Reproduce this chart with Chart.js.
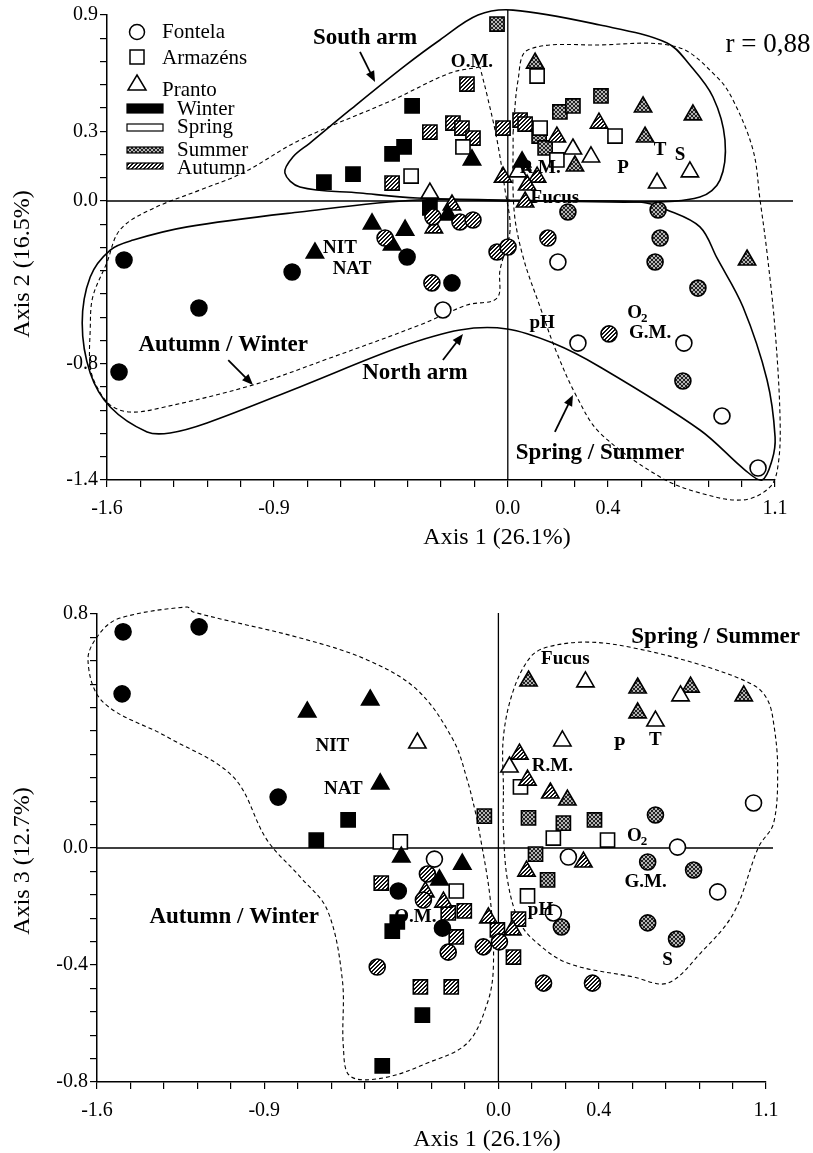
<!DOCTYPE html>
<html>
<head>
<meta charset="utf-8">
<script src="https://cdn.jsdelivr.net/npm/chart.js@4.4.1/dist/chart.umd.min.js"></script>
<style>
  html, body { margin: 0; padding: 0; background: #fff; }
  canvas { position: absolute; left: 0; }
  #top { top: 0; }
  #bot { top: 575px; }
</style>
</head>
<body>
<canvas id="top" width="813" height="570"></canvas>
<canvas id="bot" width="813" height="578"></canvas>
<script>
// ---- tick labels ----
const xTickAt = [0, 5, 12, 15, 20];
const xTickText = ['-1.6', '-0.9', '0.0', '0.4', '1.1'];
const y2TickAt = [0, 5, 12, 15, 20];
const y2TickText = ['-1.4', '-0.8', '0.0', '0.3', '0.9'];
const y3TickAt = [0, 5, 10, 20];
const y3TickText = ['-0.8', '-0.4', '0.0', '0.8'];

// ---- Axis 1 x Axis 2 ----
const f12W  = [[-1.532,-0.296],[-0.861,-0.356],[-1.233,-0.537],[-1.552,-0.858],[-0.402,-0.281],[-0.223,-0.411]];
const f12Sp = [[-0.259,-0.547],[0.200,-0.306],[0.280,-0.713],[0.703,-0.713],[0.855,-1.079],[0.999,-1.340]];
const f12Su = [[0.240,-0.055],[0.600,-0.045],[0.608,-0.186],[0.588,-0.306],[0.759,-0.437],[0.699,-0.903]];
const f12Au = [[-0.490,-0.186],[-0.299,-0.080],[-0.191,-0.105],[-0.139,-0.095],[-0.043,-0.256],[0.001,-0.231],[-0.303,-0.411],[0.160,-0.186],[0.404,-0.667]];
const a12W  = [[-0.734,0.095],[-0.618,0.135],[-0.462,0.236],[-0.414,0.271],[-0.382,0.477],[-0.311,-0.035]];
const a12Sp = [[-0.386,0.125],[-0.179,0.271],[0.117,0.627],[0.129,0.366],[0.196,0.206],[0.428,0.326]];
const a12Su = [[-0.043,0.888],[0.208,0.447],[0.260,0.477],[0.372,0.527],[0.125,0.326],[0.149,0.266]];
const a12Au = [[-0.462,0.090],[-0.311,0.346],[-0.219,0.391],[-0.183,0.366],[-0.139,0.316],[-0.163,0.587],[-0.019,0.366],[0.049,0.406],[0.069,0.386]];
const p12W  = [[-0.770,-0.261],[-0.542,-0.115],[-0.410,-0.146],[-0.462,-0.221],[-0.239,-0.070],[-0.143,0.206],[0.057,0.196]];
const p12Sp = [[-0.311,0.040],[0.260,0.261],[0.332,0.221],[0.596,0.090],[0.727,0.146],[0.041,0.146]];
const p12Su = [[0.109,0.692],[0.540,0.472],[0.739,0.432],[0.548,0.321],[0.268,0.176],[0.955,-0.296]];
const p12Au = [[-0.223,-0.020],[-0.295,-0.135],[-0.019,0.120],[0.057,0.181],[0.117,0.120],[0.077,0.080],[0.069,-0.005],[0.364,0.391],[0.196,0.321]];

// envelopes (axis units)
const southArm12 = [[0.009,0.005],[0.528,-0.005],[0.767,0.020],[0.847,0.105],[0.867,0.306],[0.819,0.522],[0.727,0.682],[0.636,0.793],[0.368,0.883],[0.021,0.958],[-0.119,0.933],[-0.271,0.808],[-0.411,0.678],[-0.630,0.457],[-0.790,0.291],[-0.858,0.221],[-0.890,0.141],[-0.830,0.070],[-0.590,0.040],[-0.362,0.015],[0.009,0.005]];
const northArm12 = [[0.009,0.000],[-0.362,0.005],[-0.830,-0.055],[-1.280,-0.130],[-1.495,-0.196],[-1.587,-0.246],[-1.667,-0.381],[-1.699,-0.612],[-1.667,-0.863],[-1.587,-1.034],[-1.440,-1.159],[-1.348,-1.164],[-1.201,-1.114],[-0.830,-0.933],[-0.430,-0.733],[-0.191,-0.647],[-0.003,-0.642],[0.180,-0.713],[0.368,-0.833],[0.767,-1.149],[0.947,-1.350],[1.015,-1.400],[1.055,-1.300],[1.067,-1.184],[1.035,-0.898],[0.939,-0.532],[0.835,-0.286],[0.767,-0.130],[0.636,-0.045],[0.528,-0.005],[0.009,0.000]];
const autWin12 = [[-0.111,0.672],[-0.231,0.642],[-0.459,0.507],[-0.830,0.306],[-1.058,0.141],[-1.229,0.055],[-1.429,-0.045],[-1.549,-0.146],[-1.601,-0.311],[-1.657,-0.482],[-1.667,-0.647],[-1.667,-0.833],[-1.640,-0.933],[-1.587,-1.024],[-1.508,-1.059],[-1.389,-1.039],[-1.017,-0.923],[-0.710,-0.788],[-0.351,-0.622],[-0.163,-0.522],[-0.043,-0.487],[-0.031,-0.346],[0.009,-0.146],[-0.011,0.055],[-0.043,0.306],[-0.083,0.532],[-0.111,0.672]];
const sprSum12 = [[0.021,0.341],[0.041,0.607],[0.080,0.758],[0.368,0.783],[0.676,0.773],[0.835,0.622],[0.899,0.507],[0.979,0.256],[1.007,0.005],[1.035,-0.261],[1.067,-0.647],[1.087,-1.099],[1.079,-1.325],[1.047,-1.435],[0.939,-1.500],[0.767,-1.465],[0.608,-1.385],[0.368,-1.164],[0.276,-0.984],[0.196,-0.763],[0.129,-0.532],[0.061,-0.281],[0.025,-0.045],[0.021,0.341]];

// ---- Axis 1 x Axis 3 ----
const f13W  = [[-1.496,0.739],[-1.193,0.756],[-1.500,0.527],[-0.878,0.174],[-0.399,-0.147],[-0.223,-0.274]];
const f13Sp = [[-0.255,-0.038],[0.279,-0.031],[0.219,-0.222],[0.714,0.003],[0.874,-0.150],[1.017,0.154]];
const f13Su = [[0.626,0.113],[0.595,-0.048],[0.778,-0.075],[0.595,-0.256],[0.710,-0.311],[0.251,-0.270]];
const f13Au = [[-0.283,-0.089],[-0.299,-0.178],[-0.200,-0.356],[-0.483,-0.407],[-0.060,-0.338],[0.004,-0.321],[0.180,-0.462],[0.375,-0.462]];
const a13W  = [[-0.599,0.096],[-0.726,0.027],[-0.403,-0.253],[-0.423,-0.284],[-0.463,-0.745],[-0.303,-0.571]];
const a13Sp = [[-0.391,0.021],[-0.168,-0.147],[0.088,0.209],[0.219,0.034],[0.435,0.027],[0.116,-0.164]];
const a13Su = [[-0.056,0.109],[0.120,0.103],[0.259,0.085],[0.383,0.096],[0.148,-0.021],[0.196,-0.109]];
const a13Au = [[-0.467,-0.120],[-0.200,-0.222],[-0.136,-0.215],[-0.168,-0.304],[-0.311,-0.475],[-0.188,-0.475],[-0.004,-0.280],[0.080,-0.243],[0.060,-0.373]];
const p13W  = [[-0.762,0.465],[-0.511,0.506],[-0.471,0.219],[-0.387,-0.031],[-0.144,-0.055],[-0.235,-0.109]];
const p13Sp = [[-0.323,0.359],[0.347,0.568],[0.726,0.520],[0.626,0.434],[0.255,0.366],[0.044,0.277]];
const p13Su = [[0.120,0.571],[0.555,0.547],[0.766,0.550],[0.978,0.520],[0.555,0.462],[0.275,0.164]];
const p13Au = [[-0.291,-0.150],[-0.219,-0.185],[-0.040,-0.239],[0.056,-0.280],[0.084,0.321],[0.116,0.232],[0.207,0.188],[0.339,-0.048],[0.112,-0.079]];

const autWin13 = [[-0.084,0.096],[-0.032,-0.178],[-0.020,-0.407],[-0.044,-0.530],[-0.124,-0.667],[-0.283,-0.735],[-0.459,-0.786],[-0.591,-0.780],[-0.618,-0.680],[-0.622,-0.451],[-0.682,-0.212],[-0.790,-0.099],[-0.922,0.027],[-1.057,0.243],[-1.321,0.380],[-1.576,0.499],[-1.636,0.643],[-1.588,0.735],[-1.508,0.786],[-1.241,0.824],[-1.217,0.807],[-0.790,0.718],[-0.523,0.643],[-0.323,0.540],[-0.180,0.369],[-0.124,0.232],[-0.084,0.096]];
const sprSum13 = [[0.020,0.200],[0.020,0.380],[0.060,0.540],[0.128,0.653],[0.196,0.687],[0.355,0.704],[0.539,0.684],[0.806,0.626],[1.017,0.557],[1.073,0.506],[1.097,0.427],[1.113,0.277],[1.097,0.085],[1.037,0.003],[0.938,-0.222],[0.806,-0.359],[0.674,-0.462],[0.539,-0.441],[0.275,-0.393],[0.140,-0.314],[0.080,-0.246],[0.036,-0.109],[0.020,0.062],[0.020,0.200]];

// ---- annotations ----
const notes12 = [
  {t:'South arm', x:-0.570, y:0.818, big:true},
  {t:'O.M.', x:-0.143, y:0.697}, {t:'R.M.', x:0.129, y:0.166}, {t:'Fucus', x:0.188, y:0.015},
  {t:'P', x:0.460, y:0.166}, {t:'T', x:0.608, y:0.256}, {t:'S', x:0.688, y:0.231},
  {t:'NIT', x:-0.670, y:-0.236}, {t:'NAT', x:-0.622, y:-0.341}, {t:'pH', x:0.137, y:-0.612},
  {t:'O2', x:0.519, y:-0.562, sub:true}, {t:'G.M.', x:0.568, y:-0.662},
  {t:'Autumn / Winter', x:-1.136, y:-0.723, big:true},
  {t:'North arm', x:-0.371, y:-0.863, big:true},
  {t:'Spring / Summer', x:0.368, y:-1.265, big:true}
];
const arrows12 = [[-0.590,0.748,-0.530,0.597],[-1.116,-0.798,-1.017,-0.923],[-0.259,-0.798,-0.179,-0.667],[0.188,-1.159,0.260,-0.973]];
const notes13 = [
  {t:'Fucus', x:0.267, y:0.646}, {t:'R.M.', x:0.215, y:0.280}, {t:'P', x:0.483, y:0.352},
  {t:'T', x:0.626, y:0.369}, {t:'NIT', x:-0.662, y:0.349}, {t:'NAT', x:-0.618, y:0.202},
  {t:'O2', x:0.555, y:0.041, sub:true}, {t:'G.M.', x:0.587, y:-0.116}, {t:'pH', x:0.168, y:-0.212},
  {t:'O.M.', x:-0.331, y:-0.236}, {t:'S', x:0.674, y:-0.383},
  {t:'Autumn / Winter', x:-1.053, y:-0.236, big:true},
  {t:'Spring / Summer', x:0.866, y:0.721, big:true}
];

const serif = "'Liberation Serif', 'Times New Roman', serif";

function tile(n, draw) {
  const c = document.createElement('canvas');
  c.width = c.height = n;
  const g = c.getContext('2d');
  draw(g);
  return g.createPattern(c, 'repeat');
}
const summerFill = tile(4, g => {
  g.fillStyle = '#b4b4b4'; g.fillRect(0, 0, 4, 4);
  g.fillStyle = '#222';
  for (let i = 0; i < 4; i++) { g.fillRect(i, i, 1, 1); g.fillRect(i, 3 - i, 1, 1); }
});
const autumnFill = tile(4, g => {
  g.fillStyle = '#fff'; g.fillRect(0, 0, 4, 4);
  g.fillStyle = '#111';
  for (let i = 0; i < 4; i++) { g.fillRect(i, 3 - i, 1, 1); g.fillRect((i + 1) % 4, 3 - i, 1, 1); }
});
const seasonFill = {W: '#000', Sp: '#fff', Su: summerFill, Au: autumnFill};

function pts(data, shape, season) {
  return {
    data: data.map(([x, y]) => ({x, y})),
    pointStyle: shape,
    pointRadius: shape === 'circle' ? 8 : 10,
    backgroundColor: seasonFill[season],
    borderColor: '#000',
    borderWidth: 1.6,
    showLine: false
  };
}
function hull(data, dashed) {
  return {
    data: data.map(([x, y]) => ({x, y})),
    showLine: true, pointRadius: 0, fill: false, clip: false,
    borderColor: '#000', borderWidth: dashed ? 1.1 : 1.6,
    borderDash: dashed ? [4, 3] : [], tension: 0.35
  };
}

function drawNote(ctx, n, sx, sy) {
  const size = n.big ? 23 : 19;
  const px = sx.getPixelForValue(n.x), py = sy.getPixelForValue(n.y);
  ctx.fillStyle = '#000';
  ctx.textBaseline = 'middle';
  ctx.font = 'bold ' + size + 'px ' + serif;
  if (n.sub) {
    const main = n.t.slice(0, -1), sub = n.t.slice(-1);
    const w1 = ctx.measureText(main).width;
    const subFont = 'bold ' + Math.round(size * 0.7) + 'px ' + serif;
    ctx.font = subFont;
    const w2 = ctx.measureText(sub).width;
    const left = px - (w1 + w2) / 2;
    ctx.textAlign = 'left';
    ctx.font = 'bold ' + size + 'px ' + serif;
    ctx.fillText(main, left, py);
    ctx.font = subFont;
    ctx.fillText(sub, left + w1 - 1, py + size * 0.3);
  } else {
    ctx.textAlign = 'center';
    ctx.fillText(n.t, px, py);
  }
}
function drawArrow(ctx, a, sx, sy) {
  const x1 = sx.getPixelForValue(a[0]), y1 = sy.getPixelForValue(a[1]);
  const x2 = sx.getPixelForValue(a[2]), y2 = sy.getPixelForValue(a[3]);
  const ang = Math.atan2(y2 - y1, x2 - x1);
  ctx.strokeStyle = '#000'; ctx.fillStyle = '#000'; ctx.lineWidth = 1.8;
  ctx.beginPath(); ctx.moveTo(x1, y1);
  ctx.lineTo(x2 - 8 * Math.cos(ang), y2 - 8 * Math.sin(ang)); ctx.stroke();
  ctx.beginPath(); ctx.moveTo(x2, y2);
  ctx.lineTo(x2 - 11 * Math.cos(ang) + 4.5 * Math.sin(ang), y2 - 11 * Math.sin(ang) - 4.5 * Math.cos(ang));
  ctx.lineTo(x2 - 11 * Math.cos(ang) - 4.5 * Math.sin(ang), y2 - 11 * Math.sin(ang) + 4.5 * Math.cos(ang));
  ctx.closePath(); ctx.fill();
}
function shape(ctx, kind, x, y, fill) {
  ctx.beginPath();
  if (kind === 'circle') ctx.arc(x, y, 7.5, 0, Math.PI * 2);
  else if (kind === 'rect') ctx.rect(x - 7, y - 7, 14, 14);
  else { ctx.moveTo(x, y - 9); ctx.lineTo(x + 9, y + 6); ctx.lineTo(x - 9, y + 6); ctx.closePath(); }
  ctx.fillStyle = fill; ctx.fill();
  ctx.lineWidth = 1.5; ctx.strokeStyle = '#000'; ctx.stroke();
}
function drawLegend(ctx, area) {
  const L = area.left, T = area.top;
  ctx.textBaseline = 'middle'; ctx.textAlign = 'left'; ctx.fillStyle = '#000';
  const sites = [['circle', 'Fontela', 17, 17], ['rect', 'Armazéns', 42, 43], ['triangle', 'Pranto', 69, 75]];
  sites.forEach(([k, t, sy, ty]) => {
    shape(ctx, k, L + 30, T + sy, '#fff');
    ctx.fillStyle = '#000'; ctx.font = '21px ' + serif;
    ctx.fillText(t, L + 55, T + ty);
  });
  const seasons = [['Winter', seasonFill.W, 89, 9, 94], ['Spring', seasonFill.Sp, 109, 7, 112],
                   ['Summer', seasonFill.Su, 132, 6, 135], ['Autumn', seasonFill.Au, 148, 6, 153]];
  seasons.forEach(([t, f, ry, rh, ty]) => {
    ctx.fillStyle = f; ctx.fillRect(L + 20, T + ry, 36, rh);
    ctx.lineWidth = 1.2; ctx.strokeStyle = '#000'; ctx.strokeRect(L + 20, T + ry, 36, rh);
    ctx.fillStyle = '#000'; ctx.font = '21px ' + serif;
    ctx.fillText(t, L + 70, T + ty);
  });
}

function deco(opts) {
  return {
    id: 'deco',
    beforeDatasetsDraw(chart) {
      const {ctx, chartArea: a, scales: {x, y}} = chart;
      const x0 = x.getPixelForValue(0), y0 = y.getPixelForValue(0);
      ctx.save();
      ctx.strokeStyle = '#000'; ctx.lineWidth = 1.3;
      ctx.beginPath();
      ctx.moveTo(a.left, y0); ctx.lineTo(a.right + opts.hExt, y0);
      ctx.moveTo(x0, a.top - opts.vExt); ctx.lineTo(x0, a.bottom);
      ctx.stroke();
      ctx.restore();
    },
    afterDatasetsDraw(chart) {
      const {ctx, chartArea: a, scales: {x, y}} = chart;
      ctx.save();
      opts.notes.forEach(n => drawNote(ctx, n, x, y));
      (opts.arrows || []).forEach(ar => drawArrow(ctx, ar, x, y));
      if (opts.legend) drawLegend(ctx, a);
      if (opts.r) {
        ctx.font = '27px ' + serif; ctx.textAlign = 'center'; ctx.textBaseline = 'middle';
        ctx.fillStyle = '#000';
        ctx.fillText(opts.r, a.right - 7, a.top + 30);
      }
      ctx.font = '24px ' + serif; ctx.fillStyle = '#000';
      ctx.textAlign = 'center'; ctx.textBaseline = 'middle';
      ctx.fillText(opts.xTitle, a.left + 390, a.bottom + 58);
      ctx.translate(23, opts.yTitleY); ctx.rotate(-Math.PI / 2);
      ctx.fillText(opts.yTitle, 0, 0);
      ctx.restore();
    }
  };
}

function axis(min, step, at, text, fit) {
  return {
    type: 'linear', min: min, max: min + 20 * step,
    afterBuildTicks: s => { s.ticks = Array.from({length: 21}, (_, i) => ({value: min + i * step})); },
    afterFit: fit,
    ticks: {
      autoSkip: false, maxRotation: 0, padding: 0,
      color: '#000', font: {family: serif, size: 20},
      callback: (v, i) => { const k = at.indexOf(i); return k >= 0 ? text[k] : ''; }
    },
    grid: {drawOnChartArea: false, drawTicks: true, tickLength: 7, color: '#000', lineWidth: 1.2},
    border: {display: true, color: '#000', width: 1.5}
  };
}

function build(id, sets, yMin, yStep, yAt, yText, pad, xH, yW, opts) {
  const xs = axis(-1.6, 2 / 15, xTickAt, xTickText, s => { s.height = xH; });
  xs.ticks.padding = 10;
  const ys = axis(yMin, yStep, yAt, yText, s => { s.width = yW; });
  ys.ticks.padding = 2;
  return new Chart(document.getElementById(id), {
    type: 'scatter',
    data: {datasets: sets},
    options: {
      responsive: false, animation: false, events: [],
      layout: {padding: pad},
      elements: {line: {capBezierPoints: false}},
      plugins: {legend: {display: false}, tooltip: {enabled: false}},
      scales: {x: xs, y: ys}
    },
    plugins: [deco(opts)]
  });
}

const sets12 = [
  pts(f12W, 'circle', 'W'), pts(f12Sp, 'circle', 'Sp'), pts(f12Su, 'circle', 'Su'), pts(f12Au, 'circle', 'Au'),
  pts(p12W, 'triangle', 'W'), pts(p12Sp, 'triangle', 'Sp'), pts(p12Su, 'triangle', 'Su'), pts(p12Au, 'triangle', 'Au'),
  pts(a12W, 'rect', 'W'), pts(a12Sp, 'rect', 'Sp'), pts(a12Su, 'rect', 'Su'), pts(a12Au, 'rect', 'Au'),
  hull(southArm12, false), hull(northArm12, false), hull(autWin12, true), hull(sprSum12, true)
];
const sets13 = [
  pts(f13W, 'circle', 'W'), pts(f13Sp, 'circle', 'Sp'), pts(f13Su, 'circle', 'Su'), pts(f13Au, 'circle', 'Au'),
  pts(p13W, 'triangle', 'W'), pts(p13Sp, 'triangle', 'Sp'), pts(p13Su, 'triangle', 'Su'), pts(p13Au, 'triangle', 'Au'),
  pts(a13W, 'rect', 'W'), pts(a13Sp, 'rect', 'Sp'), pts(a13Su, 'rect', 'Su'), pts(a13Au, 'rect', 'Au'),
  hull(autWin13, true), hull(sprSum13, true)
];

build('top', sets12, -1.4, 7 / 60, y2TickAt, y2TickText,
  {left: 0, right: 38, top: 15, bottom: 0}, 90, 107,
  {notes: notes12, arrows: arrows12, legend: true, r: 'r = 0,88', hExt: 18, vExt: 5,
   xTitle: 'Axis 1 (26.1%)', yTitle: 'Axis 2 (16.5%)', yTitleY: 264});
build('bot', sets13, -0.8, 0.08, y3TickAt, y3TickText,
  {left: 0, right: 47, top: 39, bottom: 0}, 71, 97,
  {notes: notes13, arrows: [], legend: false, r: null, hExt: 7, vExt: 1,
   xTitle: 'Axis 1 (26.1%)', yTitle: 'Axis 3 (12.7%)', yTitleY: 286});
</script>
</body>
</html>
